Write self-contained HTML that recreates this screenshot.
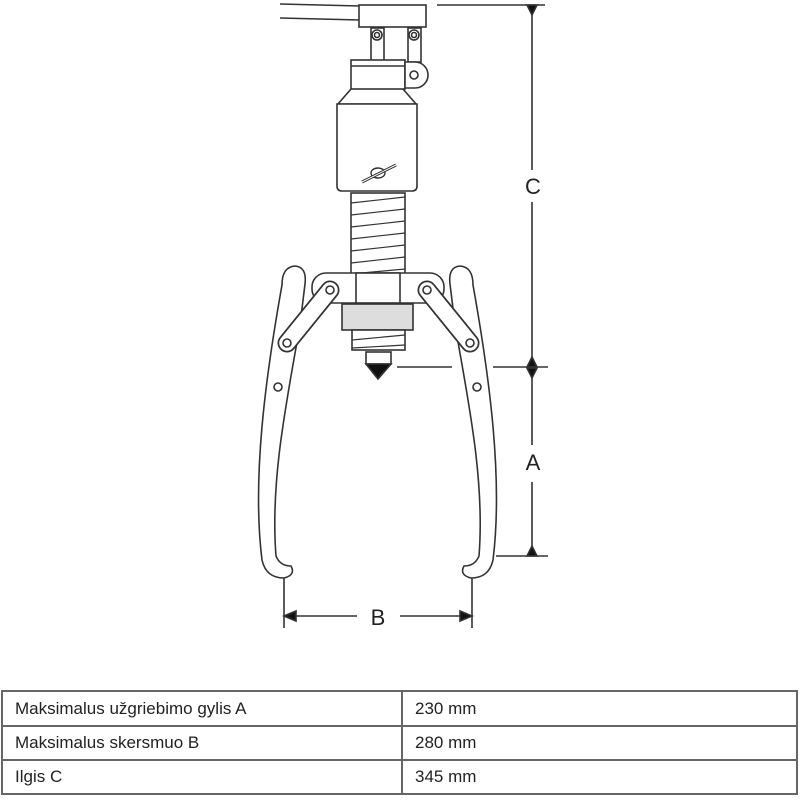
<!DOCTYPE html>
<html><head><meta charset="utf-8"><style>
html,body{margin:0;padding:0;background:#fff;width:800px;height:800px;overflow:hidden}
svg{position:absolute;left:0;top:0}
table{position:absolute;left:1px;top:690px;width:797px;border-collapse:collapse;font-family:"Liberation Sans",sans-serif;font-size:17px;color:#222}
td{border:2px solid #666;height:32px;padding:0 0 0 12px}
</style></head><body>
<svg width="800" height="690" viewBox="0 0 800 690" fill="none" stroke="#333" stroke-width="1.6">
<line x1="280" y1="4" x2="360" y2="6"/>
<line x1="280" y1="18" x2="360" y2="20"/>
<rect x="359" y="5" width="67" height="22" fill="#fff"/>
<rect x="371" y="28" width="13" height="34" fill="#fff"/>
<rect x="408" y="28" width="13" height="34" fill="#fff"/>
<circle cx="377" cy="35" r="5" fill="#fff"/><circle cx="414" cy="35" r="5" fill="#fff"/>
<circle cx="377" cy="35" r="2.5"/><circle cx="414" cy="35" r="2.5"/>
<rect x="351" y="60" width="54" height="29" fill="#fff"/>
<line x1="351" y1="66" x2="405" y2="66"/>
<path d="M405 62 H415 A13 13 0 0 1 415 88 H405 Z" fill="#fff"/>
<circle cx="414" cy="75" r="4"/>
<path d="M351 89 L338 104 H416 L403 89"/>
<path d="M337 104 H417 V186 Q417 191 412 191 H342 Q337 191 337 186 Z" fill="#fff"/>
<g stroke-width="1.4">
<ellipse cx="378" cy="173" rx="7" ry="5"/>
<line x1="362" y1="182" x2="396" y2="165" stroke-width="3"/>
<line x1="362" y1="182" x2="396" y2="165" stroke="#fff" stroke-width="1"/>
</g>
<rect x="351" y="193" width="54" height="82" fill="#fff"/>
<g stroke-width="1.2">
<line x1="351" y1="203" x2="405" y2="197"/><line x1="351" y1="215" x2="405" y2="209"/>
<line x1="351" y1="227" x2="405" y2="221"/><line x1="351" y1="239" x2="405" y2="233"/>
<line x1="351" y1="251" x2="405" y2="245"/><line x1="351" y1="263" x2="405" y2="257"/>
<line x1="351" y1="274" x2="405" y2="269"/>
</g>
<g id="leg" fill="#fff">
<path d="M282 285 Q282 267 295 266 Q307 267 305 284 L300 325 C287 400 270 480 276 556 Q280 566 291 566 Q296 575 284 578 Q266 578 262 560 C252 480 265 380 282 285 Z"/>
<circle cx="278" cy="387" r="4"/>
</g>
<use href="#leg" transform="translate(755,0) scale(-1,1)"/>
<rect x="312" y="273" width="132" height="30" rx="14" fill="#fff"/>
<rect x="356" y="273" width="44" height="30" fill="#fff"/>
<g stroke-linecap="round">
<line x1="287" y1="343" x2="330" y2="290" stroke="#333" stroke-width="19"/>
<line x1="287" y1="343" x2="330" y2="290" stroke="#fff" stroke-width="15.5"/>
<line x1="470" y1="343" x2="427" y2="290" stroke="#333" stroke-width="19"/>
<line x1="470" y1="343" x2="427" y2="290" stroke="#fff" stroke-width="15.5"/>
</g>
<circle cx="287" cy="343" r="4"/><circle cx="330" cy="290" r="4"/>
<circle cx="470" cy="343" r="4"/><circle cx="427" cy="290" r="4"/>
<rect x="342" y="304" width="71" height="26" fill="#ddd"/>
<rect x="352" y="330" width="53" height="20" fill="#fff"/>
<line x1="352" y1="340" x2="405" y2="335" stroke-width="1.2"/>
<line x1="352" y1="348" x2="405" y2="345" stroke-width="1.2"/>
<rect x="366" y="352" width="25" height="12" fill="#fff"/>
<path d="M366 364 H391 L378 379 Z" fill="#111"/>
<line x1="437" y1="5" x2="545" y2="5"/>
<line x1="532" y1="5" x2="532" y2="170"/>
<line x1="532" y1="202" x2="532" y2="367"/>
<path d="M527 5 L537 5 L532 15 Z M527 367 L537 367 L532 357 Z" fill="#111"/>
<line x1="397" y1="367" x2="452" y2="367"/>
<line x1="493" y1="367" x2="548" y2="367"/>
<line x1="532" y1="367" x2="532" y2="445"/>
<line x1="532" y1="482" x2="532" y2="556"/>
<path d="M527 368 L537 368 L532 378 Z M527 556 L537 556 L532 546 Z" fill="#111"/>
<line x1="496" y1="556" x2="548" y2="556"/>
<line x1="284" y1="578" x2="284" y2="628"/>
<line x1="472" y1="578" x2="472" y2="628"/>
<line x1="284" y1="616" x2="357" y2="616"/>
<line x1="400" y1="616" x2="472" y2="616"/>
<path d="M284 616 L296 611 L296 621 Z M472 616 L460 611 L460 621 Z" fill="#111"/>
<g fill="#222" stroke="none" font-family="Liberation Sans, sans-serif" font-size="22" text-anchor="middle">
<text x="533" y="194">C</text>
<text x="533" y="470">A</text>
<text x="378" y="625">B</text>
</g>
</svg>
<table>
<tr><td style="width:386px;height:33px">Maksimalus užgriebimo gylis A</td><td>230 mm</td></tr>
<tr><td>Maksimalus skersmuo B</td><td>280 mm</td></tr>
<tr><td>Ilgis C</td><td>345 mm</td></tr>
</table>
</body></html>
